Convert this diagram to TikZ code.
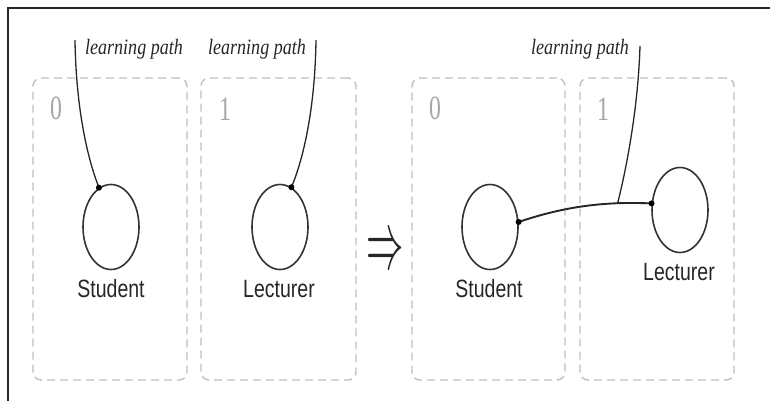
\documentclass[tikz,border=0pt]{standalone}
\usepackage{fontspec}
\setmainfont{Liberation Serif}
\newfontfamily\labelfont{Liberation Sans}
\usepackage{graphicx}
\usetikzlibrary{shapes.geometric}
\begin{document}
\begin{tikzpicture}[x=1pt,y=-1pt,
  frame/.style={line width=1.5pt, draw=black!85},
  panel/.style={draw=black!25, line width=1.4pt, dash pattern=on 8pt off 5pt, rounded corners=8pt, inner sep=0pt},
  obj/.style={draw=black!80, line width=1.6pt, ellipse, minimum width=56pt, minimum height=85pt, inner sep=0pt},
  objname/.style={font=\labelfont\fontsize{25}{30}\selectfont, text=black!85, inner sep=0pt},
  pathlabel/.style={font=\itshape\fontsize{22}{26}\selectfont, text=black!85, inner sep=0pt, anchor=base},
  idx/.style={font=\fontsize{34}{40}\selectfont, text=black!35, inner sep=0pt, anchor=base},
  lp/.style={draw=black!85, line width=1.3pt},
  link/.style={draw=black!85, line width=1.9pt},
  pin/.style={fill=black, circle, inner sep=0pt, minimum size=6pt}
]
\path[use as bounding box] (0,0) rectangle (770,401);
\draw[frame] (8,401) -- (8,8) -- (770,8);

% panels
\node[panel, minimum width=154pt, minimum height=302pt] (p1) at (110,229) {};
\node[panel, minimum width=155pt, minimum height=302pt] (p2) at (278.5,229) {};
\node[panel, minimum width=153pt, minimum height=302pt] (p3) at (488.5,229) {};
\node[panel, minimum width=154pt, minimum height=302pt] (p4) at (657,229) {};

% indices
\node[idx] (d1) at (56,120) {\scalebox{0.7}[1]{0}};
\node[idx] (d2) at (225,121) {\scalebox{0.7}[1]{1}};
\node[idx] (d3) at (435,120) {\scalebox{0.7}[1]{0}};
\node[idx] (d4) at (603,121) {\scalebox{0.7}[1]{1}};

% objects
\node[obj] (s1) at (111,227) {};
\node[obj] (l1) at (280,227) {};
\node[obj] (s2) at (490,227) {};
\node[obj] (l2) at (680,210) {};

\node[objname] (s1t) at (111,289) {\scalebox{0.78}[1]{Student}};
\node[objname] (l1t) at (279,289) {\scalebox{0.78}[1]{Lecturer}};
\node[objname] (s2t) at (489,289) {\scalebox{0.78}[1]{Student}};
\node[objname] (l2t) at (679,272) {\scalebox{0.78}[1]{Lecturer}};

% learning path labels
\node[pathlabel] (t1) at (134,55) {\scalebox{0.82}[1]{learning path}};
\node[pathlabel] (t2) at (257,55) {\scalebox{0.82}[1]{learning path}};
\node[pathlabel] (t3) at (580,55) {\scalebox{0.82}[1]{learning path}};

% learning paths
\coordinate (a1) at (75,40);
\coordinate (a2) at (316,40);
\coordinate (a3) at (640,46);
\draw[lp] (a1) .. controls (76,110) and (88,160) .. (s1.107);
\node[pin] (k1) at (s1.107) {};
\draw[lp] (a2) .. controls (315,110) and (303,160) .. (l1.74);
\node[pin] (k2) at (l1.74) {};

\draw[link] (s2.10) .. controls (560,208) and (600,201) .. coordinate[pos=0.77] (m) (l2.167);
\node[pin] (k3) at (s2.10) {};
\node[pin] (k4) at (l2.167) {};
\draw[lp] (a3) .. controls (638,110) and (626,170) .. (m);

% transformation arrow
\node[inner sep=0pt, font=\fontsize{24}{28}\selectfont, text=black!85] (arr) at (385,253) {\scalebox{1.5}[3.3]{$\Rightarrow$}};
\end{tikzpicture}
\end{document}
